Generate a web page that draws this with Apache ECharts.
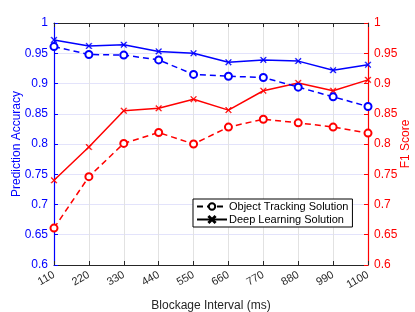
<!DOCTYPE html>
<html><head><meta charset="utf-8">
<script src="https://cdn.jsdelivr.net/npm/echarts@6/dist/echarts.min.js"></script>
<style>html,body{margin:0;padding:0;background:#fff}#c{width:415px;height:312px}</style>
</head><body><div id="c"></div>
<script>
const categories = ['110','220','330','440','550','660','770','880','990','1100'];
const accDeep = [0.972,0.962,0.964,0.953,0.950,0.935,0.939,0.937,0.922,0.931];
const accTrack = [0.961,0.948,0.947,0.939,0.915,0.912,0.910,0.894,0.878,0.862];
const f1Deep = [0.740,0.795,0.855,0.859,0.874,0.856,0.888,0.901,0.888,0.906];
const f1Track = [0.661,0.746,0.801,0.819,0.800,0.828,0.841,0.835,0.828,0.818];
const yTicks = {min:0.6, max:1, interval:0.05};

const FONT = 'Liberation Sans';
const XSYM = 'path://M0,1L1,0L5,4L9,0L10,1L6,5L10,9L9,10L5,6L1,10L0,9L4,5Z';
const chart = echarts.init(document.getElementById('c'), null, {renderer:'canvas'});
function mk(name, data, color, dashed, sym, yi){
  return {name, type:'line', data, yAxisIndex:yi, xAxisIndex:0,
    symbol: sym==='o' ? 'emptyCircle' : XSYM,
    symbolSize: sym==='o' ? 7 : 6,
    showAllSymbol:true, animation:false,
    lineStyle:{color, width:1.5, type: dashed ? [6,4] : 'solid'},
    itemStyle:{color: color, borderColor:color, borderWidth: sym==='o'?1.5:0.5},
    emphasis:{disabled:true}, z:3};
}
const series = [
  mk('_f1t', f1Track, '#ff0000', true, 'o', 1),
  mk('_f1d', f1Deep, '#ff0000', false, 'x', 1),
  mk('_act', accTrack, '#0000ff', true, 'o', 0),
  mk('_acd', accDeep, '#0000ff', false, 'x', 0),
  mk('Object Tracking Solution', [], '#000', true, 'o', 0),
  mk('Deep Learning Solution', [], '#000', false, 'x', 0)
];
series[4].symbolSize = 6;
const axisCommon = (color, pos) => ({
  type:'value', position:pos, min:yTicks.min, max:yTicks.max, interval:yTicks.interval,
  axisLine:{show:true, lineStyle:{color, width:1.2}},
  axisTick:{show:true, inside:true, length:4, lineStyle:{color}},
  axisLabel:{color, fontFamily:FONT, fontSize:12, margin:6},
  nameTextStyle:{color, fontFamily:FONT, fontSize:12},
  nameLocation:'middle', nameMoveOverlap:false
});
const yL = Object.assign(axisCommon('#0000ff','left'), {name:'Prediction Accuracy', nameGap:31,
  splitLine:{show:true, lineStyle:{color:'#e3e3fb', width:1}}});
const yR = Object.assign(axisCommon('#ff0000','right'), {name:'F1 Score', nameGap:32, splitLine:{show:false}});
chart.setOption({
  animation:false,
  backgroundColor:'#fff',
  grid:{left:54, right:47, top:23, bottom:47, containLabel:false, outerBoundsMode:'none'},
  legend:{
    data:['Object Tracking Solution','Deep Learning Solution'],
    orient:'vertical', left:193, top:199,
    backgroundColor:'#fff', borderColor:'#000', borderWidth:1, borderRadius:0,
    padding:[2,4,2,3], itemGap:2, itemWidth:30, itemHeight:8,
    textStyle:{fontFamily:FONT, fontSize:11, color:'#000', padding:[0,0,0,-3]},
    selectedMode:false
  },
  xAxis:[{
    type:'category', data:categories, boundaryGap:false, position:'bottom',
    name:'Blockage Interval (ms)', nameLocation:'middle', nameGap:35, nameMoveOverlap:false,
    nameTextStyle:{color:'#262626', fontFamily:FONT, fontSize:12},
    axisLine:{show:true, lineStyle:{color:'#262626', width:1}},
    axisTick:{show:true, inside:true, length:4, alignWithLabel:true, lineStyle:{color:'#262626'}},
    axisLabel:{color:'#262626', fontFamily:FONT, fontSize:11, rotate:30, margin:9, interval:0},
    splitLine:{show:true, lineStyle:{color:'#e2e2e2', width:1}}
  },{
    type:'category', data:categories, boundaryGap:false, position:'top',
    axisLine:{show:true, lineStyle:{color:'#262626', width:1}},
    axisTick:{show:true, inside:true, length:4, lineStyle:{color:'#262626'}},
    axisLabel:{show:false}, splitLine:{show:false}
  }],
  yAxis:[yL, yR],
  series
});
</script></body></html>
